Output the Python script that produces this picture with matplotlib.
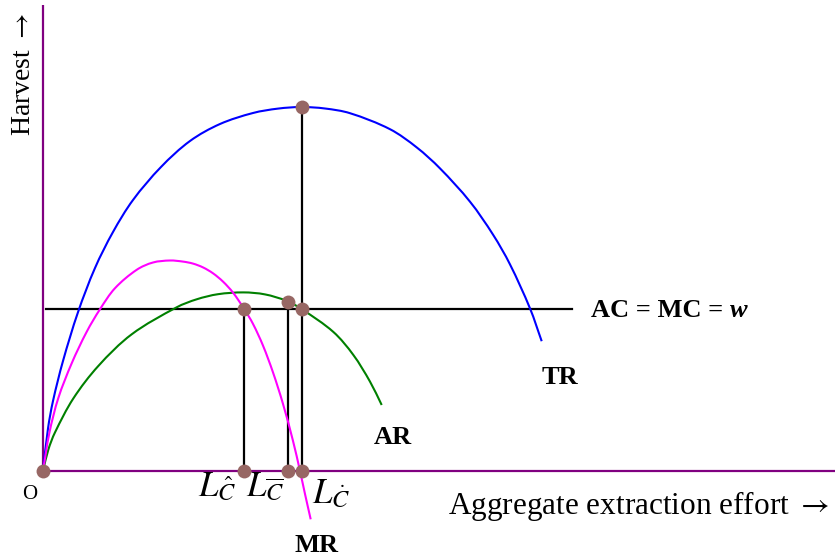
import matplotlib
matplotlib.use("Agg")
import matplotlib.pyplot as plt
import numpy as np
from matplotlib.path import Path
from matplotlib.patches import PathPatch

plt.rcParams['font.family'] = ['Liberation Serif', 'DejaVu Serif']
plt.rcParams['mathtext.fontset'] = 'stix'

# ---- data (effort, harvest) ----
tr_effort = [0, 5, 10, 20, 35, 52, 70, 90, 118, 147, 177, 210, 235, 258.5,
             282, 307, 347, 373.7, 397, 427, 450, 467, 487, 498.7]
tr_harvest = [0, 42.5, 70, 110, 158.8, 203, 239, 271, 304, 330, 347, 358, 362.4, 364,
              362.5, 357.8, 341.8, 323.6, 302.6, 269.3, 236.4, 206.6, 162.6, 129.8]

mr_effort = [0, 6.3, 15.3, 28.7, 43.7, 57, 72, 93.7, 110, 127,
             140, 150, 160, 170, 180, 190, 201, 210, 220, 230, 240, 250, 257, 262, 267.7]
mr_harvest = [0, 37.8, 72.9, 107.7, 139.2, 161.8, 182.8, 201.2, 208.5, 210.5,
              209.4, 207.4, 203.6, 197.7, 189.4, 178.4, 162.3, 147.1, 125.4, 98.6, 67.1, 30.1,
              0, -23, -48.3]

ar_effort = [0, 5.3, 12, 30.3, 55.3, 88.7, 133.7, 153.7, 175, 200.3, 222, 243.7, 258.7,
             290.3, 310.3, 327, 338.7]
ar_harvest = [0, 21.2, 38.6, 72.5, 105, 136.7, 163.7, 171.7, 176.8, 178.6, 176.6, 170.1,
              161.9, 139.1, 116.1, 89.4, 66.0]

cost_level = 162            # AC = MC = w
cost_line_effort = [3, 529]

L_hat, L_bar, L_dot = 201, 245, 258.5
L_bar_harvest = 169.5
tr_max = 364

point_effort = [0, L_hat, L_hat, L_bar, L_bar, L_dot, L_dot, L_dot]
point_harvest = [0, cost_level, 0, L_bar_harvest, 0, tr_max, cost_level, 0]


def smooth_path(xs, ys):
    """Smooth Bezier path (chord-length Hermite) through the given points."""
    p = np.column_stack([xs, ys]).astype(float)
    n = len(p)
    h = np.hypot(*np.diff(p, axis=0).T)
    t = np.concatenate([[0], np.cumsum(h)])
    m = np.zeros_like(p)
    m[0] = (p[1] - p[0]) / h[0]
    m[-1] = (p[-1] - p[-2]) / h[-1]
    for i in range(1, n - 1):
        m[i] = (p[i + 1] - p[i - 1]) / (t[i + 1] - t[i - 1])
    verts = [tuple(p[0])]
    codes = [Path.MOVETO]
    for i in range(n - 1):
        c1 = p[i] + m[i] * h[i] / 3.0
        c2 = p[i + 1] - m[i + 1] * h[i] / 3.0
        verts += [tuple(c1), tuple(c2), tuple(p[i + 1])]
        codes += [Path.CURVE4] * 3
    return Path(verts, codes)


# ---- figure ----
fig = plt.figure(figsize=(8.38, 5.57), dpi=100)
ax = fig.add_axes([0, 0, 1, 1])
ax.set_xlim(-43, 795)
ax.set_ylim(-86, 471)
ax.axis('off')

purple = '#800080'
ax.plot([0, 0], [0, 466], color=purple, lw=1.6, solid_capstyle='butt')
ax.plot([0, 792], [0, 0], color=purple, lw=1.6, solid_capstyle='butt')

for xs, ys, col in [(tr_effort, tr_harvest, '#0000ff'),
                    (ar_effort, ar_harvest, '#008000'),
                    (mr_effort, mr_harvest, '#ff00ff')]:
    ax.add_patch(PathPatch(smooth_path(xs, ys), facecolor='none', edgecolor=col,
                           lw=1.5, capstyle='butt', zorder=3))

ax.plot(cost_line_effort, [cost_level, cost_level], color='black', lw=1.6)
ax.plot([L_hat, L_hat], [0, cost_level], color='black', lw=1.6)
ax.plot([L_bar, L_bar], [0, L_bar_harvest], color='black', lw=1.6)
ax.plot([L_dot, L_dot], [0, tr_max], color='black', lw=1.6)

ax.plot(point_effort, point_harvest, 'o', color='#976764', ms=10, mec='none', zorder=5)

# ---- text ----
ax.text(-20, 396, r'Harvest $\rightarrow$', rotation=90, ha='center', va='center', fontsize=20)
ax.text(405, -43, r'Aggregate extraction effort $\rightarrow$', ha='left', va='baseline',
        fontsize=22.5)
ax.text(-13.5, -28, 'O', ha='center', va='baseline', fontsize=15)

ax.text(273.5, -81, 'MR', ha='center', va='baseline', fontsize=19, fontweight='bold')
ax.text(349.5, 27, 'AR', ha='center', va='baseline', fontsize=19, fontweight='bold')
ax.text(517, 87, 'TR', ha='center', va='baseline', fontsize=19, fontweight='bold')

t = ax.text(548, 154, 'AC = MC = ', ha='left', va='baseline', fontsize=19, fontweight='bold')
fig.canvas.draw()
bb = t.get_window_extent(renderer=fig.canvas.get_renderer())
x_end = ax.transData.inverted().transform((bb.x1, bb.y0))[0]
ax.text(x_end, 154, 'w', ha='left', va='baseline', fontsize=19, fontweight='bold',
        fontstyle='italic')

ax.text(155, -25, r'$L_{\hat{C}}$', ha='left', va='baseline', fontsize=25)
ax.text(203, -25, r'$L_{\overline{C}}$', ha='left', va='baseline', fontsize=25)
ax.text(269, -32, r'$L_{\dot{C}}$', ha='left', va='baseline', fontsize=25)

fig.savefig('out.png', dpi=100)
